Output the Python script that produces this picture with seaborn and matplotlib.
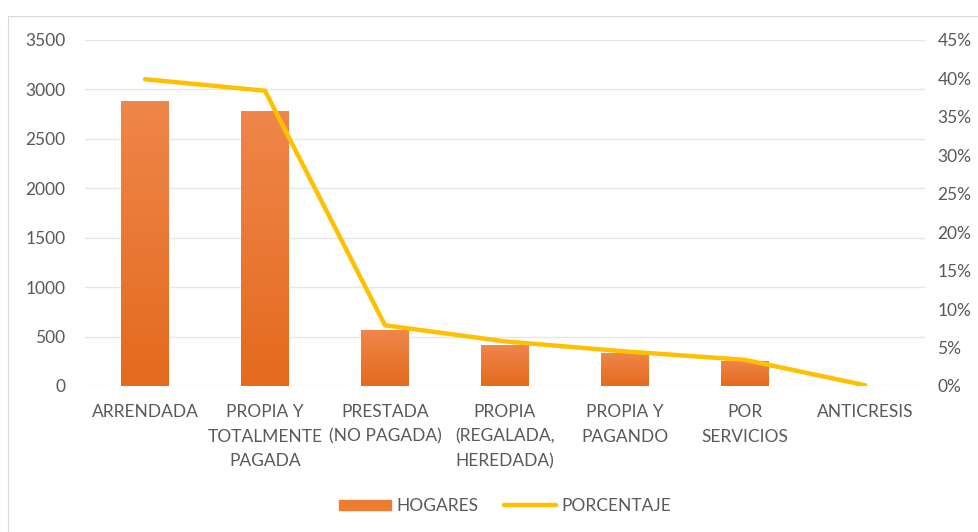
import numpy as np
import pandas as pd
import seaborn as sns
import matplotlib.pyplot as plt
from matplotlib.patches import Rectangle, Patch
from matplotlib.lines import Line2D
from matplotlib.ticker import FuncFormatter
from matplotlib.colors import LinearSegmentedColormap

# Datos
categorias = ["ARRENDADA", "PROPIA Y\nTOTALMENTE\nPAGADA", "PRESTADA\n(NO PAGADA)",
              "PROPIA\n(REGALADA,\nHEREDADA)", "PROPIA Y\nPAGANDO", "POR\nSERVICIOS", "ANTICRESIS"]
hogares = [2880, 2780, 565, 410, 330, 255, 5]
porcentaje = [0.399, 0.384, 0.079, 0.058, 0.045, 0.034, 0.001]

sns.set_theme(style="white")
plt.rcParams['font.family'] = ['Lato', 'DejaVu Sans']

gris = "#595959"
naranja = "#ED7D31"
amarillo = "#FFC000"
fs = 12.5

df = pd.DataFrame({"cat": categorias, "hogares": hogares, "pct": porcentaje})

fig = plt.figure(figsize=(9.79, 5.32), dpi=100)
fig.patches.append(Rectangle((8 / 979, -0.1), 1.2, 1 - 16 / 532 + 0.1, transform=fig.transFigure,
                             fill=False, edgecolor="#D9D9D9", linewidth=0.8))
ax = fig.add_axes([85 / 979, 146 / 532, 840 / 979, 346 / 532])

sns.barplot(data=df, x="cat", y="hogares", color=naranja, width=0.4, ax=ax, saturation=1)

# degradado en las barras
grad = np.linspace(0, 1, 256).reshape(-1, 1)
cmap = LinearSegmentedColormap.from_list("g", ["#E46A1E", "#EF864A"])
for p in ax.patches:
    x0, y0 = p.get_x(), p.get_y()
    w, h = p.get_width(), p.get_height()
    if h <= 0:
        continue
    im = ax.imshow(grad, cmap=cmap, aspect="auto", origin="lower",
                   extent=[x0, x0 + w, y0, y0 + h], zorder=p.get_zorder() + 0.1)
    im.set_clip_path(p)

ax.set_xlim(-0.5, 6.5)
ax.set_ylim(0, 3500)
ax.set_yticks(np.arange(0, 3501, 500))
ax.grid(axis="y", color="#E6E6E6", linewidth=1)
ax.set_axisbelow(True)
for s in ax.spines.values():
    s.set_visible(False)
ax.set_xlabel("")
ax.set_ylabel("")
ax.tick_params(axis="both", length=0, colors=gris, labelsize=fs)
ax.tick_params(axis="y", pad=14)
ax.tick_params(axis="x", pad=13)
for t in ax.get_xticklabels():
    t.set_linespacing(1.65)

ax2 = ax.twinx()
ax2.plot(range(len(categorias)), porcentaje, color=amarillo, linewidth=3.2, solid_capstyle="round",
         solid_joinstyle="miter")
ax2.set_ylim(0, 0.45)
ax2.set_yticks(np.arange(0, 0.451, 0.05))
ax2.yaxis.set_major_formatter(FuncFormatter(lambda v, _: f"{v * 100:.0f}%"))
ax2.tick_params(axis="y", length=0, colors=gris, labelsize=fs, pad=9)
for s in ax2.spines.values():
    s.set_visible(False)
ax2.grid(False)

handles = [Patch(color=naranja), Line2D([0], [0], color=amarillo, linewidth=3.2)]
fig.legend(handles, ["HOGARES", "PORCENTAJE"], loc="center", bbox_to_anchor=(505 / 979, 1 - 506 / 532),
           ncol=2, frameon=False, fontsize=fs, labelcolor=gris, handlelength=3.0, handleheight=0.55,
           handletextpad=0.3, columnspacing=1.5)

fig.savefig("out.png", dpi=100)
